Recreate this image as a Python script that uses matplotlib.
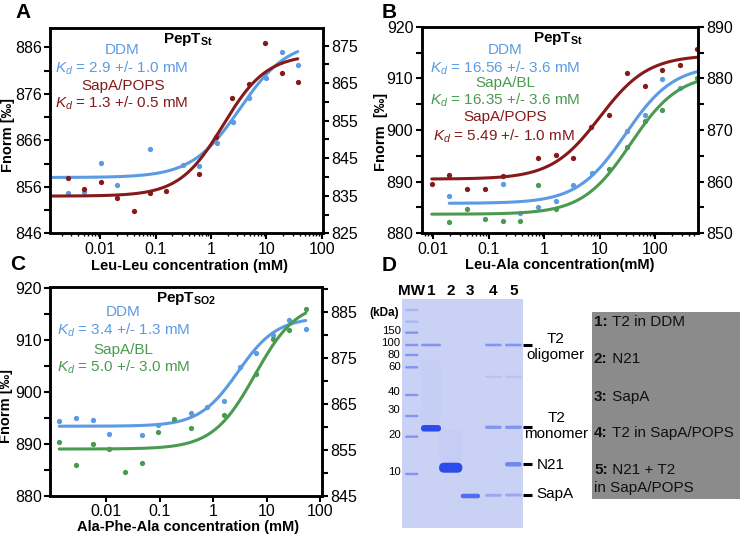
import numpy as np
import matplotlib.pyplot as plt
from matplotlib.patches import FancyBboxPatch, Rectangle
from matplotlib.text import Annotation
from matplotlib.ticker import LogLocator, NullFormatter

plt.rcParams['font.family'] = ['Liberation Sans', 'DejaVu Sans']
plt.rcParams['mathtext.fontset'] = 'custom'
plt.rcParams['mathtext.rm'] = 'Liberation Sans'
plt.rcParams['mathtext.it'] = 'Liberation Sans:italic'
plt.rcParams['mathtext.bf'] = 'Liberation Sans:bold'

BLUE = '#5b9be3'
RED = '#861a1a'
GREEN = '#4a9a50'
W, H = 740, 538

# =============================================================================
# DATA
# =============================================================================
# A: PepT St, Leu-Leu
a_x_ddm = [0.0026, 0.0051, 0.0102, 0.020, 0.080, 0.31, 0.61, 1.27, 2.47, 4.9, 9.8, 19.0, 38.0]
a_y_ddm = [854.7, 854.8, 861.1, 856.3, 864.1, 860.6, 860.5, 865.5, 869.9, 875.2, 879.5, 884.9, 882.1]
a_x_pops = [0.0026, 0.0051, 0.0102, 0.020, 0.040, 0.080, 0.155, 0.61, 1.23, 2.4, 4.9, 9.5, 19.0, 38.0]
a_y_pops = [857.8, 855.6, 857.1, 853.5, 850.8, 854.7, 855.0, 858.8, 866.8, 875.1, 878.1, 887.0, 880.5, 878.5]
# fitted curves: (bottom, top, K, hill n, x start, x end)
a_fit_ddm = (858.0, 887.5, 3.3, 1.0, 0.0013, 37)
a_fit_pops = (854.0, 884.5, 1.65, 1.1, 0.0013, 37)

# B: PepT St, Leu-Ala
b_x_pops = [0.0094, 0.0194, 0.0405, 0.0844, 0.178, 0.78, 1.62, 3.34, 6.94, 14.8, 30.9, 64.4, 134, 279, 571]
b_y_pops = [889.5, 891.3, 888.5, 888.6, 891.0, 894.5, 895.2, 894.5, 900.5, 902.9, 911.1, 908.6, 911.6, 912.6, 915.7]
b_x_ddm = [0.0194, 0.178, 0.370, 0.769, 1.62, 3.34, 7.15, 30.9, 64.4, 134, 279]
b_y_ddm = [887.3, 889.6, 883.9, 885.0, 886.3, 889.4, 891.6, 899.8, 902.9, 909.9, 908.2]
b_x_bl = [0.0194, 0.0405, 0.0844, 0.178, 0.370, 0.769, 1.62, 14.8, 30.9, 64.4, 134, 571]
b_y_bl = [882.1, 884.8, 882.8, 882.3, 882.3, 889.4, 884.8, 892.4, 896.7, 901.8, 903.9, 910.0]
b_fit_pops = (890.5, 914.5, 10, 1.0, 0.0094, 590)
b_fit_ddm = (885.8, 912.6, 29, 1.0, 0.0194, 590)
b_fit_bl = (883.7, 911.0, 36, 1.0, 0.0094, 590)

# C: PepT SO2, Ala-Phe-Ala
c_x_ddm = [0.00132, 0.00277, 0.00557, 0.0113, 0.0465, 0.0938, 0.378, 0.772, 1.56, 3.16, 6.28, 12.9, 26.2, 53.3]
c_y_ddm = [894.4, 894.9, 894.6, 891.9, 891.8, 893.6, 895.9, 897.1, 898.3, 904.9, 907.6, 910.9, 913.9, 912.1]
c_x_bl = [0.00132, 0.00277, 0.00557, 0.0113, 0.0226, 0.0465, 0.0938, 0.188, 0.378, 1.56, 6.28, 12.9, 26.2, 53.3]
c_y_bl = [890.3, 885.9, 889.9, 889.1, 884.6, 886.4, 892.2, 894.8, 893.0, 895.5, 903.4, 910.2, 911.9, 916.0]
c_fit_ddm = (893.4, 914.4, 2.9, 1.2, 0.00132, 53.3)
c_fit_bl = (889.0, 917.6, 6.0, 1.1, 0.00132, 53.3)

# D: SDS-PAGE gel (positions in px from the gel's top-left corner)
lane_names = ['MW', '1', '2', '3', '4', '5']
lane_x = [9.4, 28.7, 48.4, 68.1, 91.1, 111.1]
lane_w = [13.3, 20.0, 23.3, 19.3, 16.7, 16.7]
ladder_kda = ['150', '100', '80', '60', '40', '30', '20', '10']
ladder_y = [33.4, 45.7, 55.7, 68.0, 95.7, 116.7, 137.4, 174.7]
ladder_label_y = [31.7, 44.0, 55.7, 67.4, 92.4, 110.7, 135.7, 173.0]
ladder_extra_y = [10.7, 22.4]
# (lane index, y, thickness, intensity 0..1)
bands = [
    (1, 45.7, 2.6, 0.45), (1, 129.0, 6.5, 1.0),
    (2, 168.4, 10.0, 1.0),
    (3, 196.7, 4.5, 0.75),
    (4, 45.7, 2.6, 0.45), (4, 77.4, 1.8, 0.12), (4, 128.0, 3.3, 0.45), (4, 196.0, 3.0, 0.3),
    (5, 45.7, 2.6, 0.45), (5, 77.4, 1.8, 0.12), (5, 128.0, 3.3, 0.45), (5, 165.0, 4.5, 0.55),
    (5, 195.7, 3.0, 0.3),
]
# faint smears above the big bands: (lane, y top, y bottom, intensity)
smears = [(1, 60, 125, 0.025), (2, 130, 163, 0.03)]
marker_y = [45.7, 128.0, 165.0, 195.7]
gel_legend = [('1:', ' T2 in DDM'), ('2:', ' N21'), ('3:', ' SapA'),
              ('4:', ' T2 in SapA/POPS'), ('5:', ' N21 + T2')]
gel_legend_y = [322.3, 359.3, 396.7, 433.3, 470.0]


def hill(x, lo, hi, kd, n):
    return lo + (hi - lo) * x ** n / (x ** n + kd ** n)


def px_axes(fig, left, top, width, height):
    return fig.add_axes([left / W, 1 - (top + height) / H, width / W, height / H])


def mst_panel(ax, xlim, ylim, ylim_r, yt, yt_r, series, xlabel, ylabel, ylab_pos,
              xlab_pos, title, notes):
    ax.set_xscale('log')
    for xs, ys, fit, col in series:
        lo, hi, kd, n, x0, x1 = fit
        xx = np.logspace(np.log10(x0), np.log10(x1), 300)
        ax.plot(xx, hill(xx, lo, hi, kd, n), color=col, lw=2.2, solid_capstyle='round')
        ax.plot(xs, ys, 'o', color=col, ms=3.8, mec='none')
    ax.set_xlim(xlim)
    ax.set_ylim(ylim)
    ax.set_xticks([0.01, 0.1, 1, 10, 100], labels=['0.01', '0.1', '1', '10', '100'])
    ax.xaxis.set_minor_locator(LogLocator(base=10, subs=np.arange(2, 10)))
    ax.xaxis.set_minor_formatter(NullFormatter())
    ax.set_yticks(yt)
    ax.set_yticks(np.array(yt[:-1]) + 5, minor=True)
    axr = ax.twinx()
    axr.set_ylim(ylim_r)
    axr.set_yticks(yt_r)
    axr.set_yticks(np.array(yt_r) + 5, minor=True)
    axr.set_ylim(ylim_r)
    for a in (ax, axr):
        for s in a.spines.values():
            s.set_linewidth(1.8)
        a.tick_params(which='major', direction='out', length=4.5, width=1.5,
                      labelsize=11.5, pad=1.5)
        a.tick_params(axis='y', which='minor', direction='out', length=4.5, width=1.5)
    ax.tick_params(axis='x', which='minor', direction='out', length=2.5, width=1.0)
    ax.text(xlab_pos[0], xlab_pos[1], xlabel, transform=ax.transAxes, ha='center',
            va='center', fontsize=10.5, fontweight='bold')
    ax.text(ylab_pos[0], ylab_pos[1], ylabel, transform=ax.transAxes, ha='center',
            va='center', rotation=90, fontsize=10.5, fontweight='bold')
    ax.text(title[0], title[1], title[2], transform=ax.transAxes, ha='center',
            va='center', fontsize=11)
    for x, y, s, col in notes:
        ax.text(x, y, s, transform=ax.transAxes, ha='center', va='center',
                fontsize=11, color=col)


fig = plt.figure(figsize=(W / 100, H / 100), dpi=100)

# ---- A ----
axA = px_axes(fig, 50, 28, 273.3, 205.3)
mst_panel(axA, (0.00123, 107), (846, 890.15), (825, 879.7),
          [846, 856, 866, 876, 886], [825, 835, 845, 855, 865, 875],
          [(a_x_ddm, a_y_ddm, a_fit_ddm, BLUE), (a_x_pops, a_y_pops, a_fit_pops, RED)],
          'Leu-Leu concentration (mM)', 'Fnorm [‰]', (-0.154, 0.479), (0.512, -0.159),
          (0.505, 0.945, r'$\mathbf{PepT}_{\mathbf{St}}$'),
          [(0.263, 0.893, 'DDM', BLUE),
           (0.263, 0.804, r'$K_d$ = 2.9 +/- 1.0 mM', BLUE),
           (0.268, 0.717, 'SapA/POPS', RED),
           (0.263, 0.633, r'$K_d$ = 1.3 +/- 0.5 mM', RED)])

# ---- B ----
axB = px_axes(fig, 421.7, 26.7, 276.3, 206.6)
mst_panel(axB, (0.00618, 588), (880, 920), (850, 890),
          [880, 890, 900, 910, 920], [850, 860, 870, 880, 890],
          [(b_x_pops, b_y_pops, b_fit_pops, RED), (b_x_ddm, b_y_ddm, b_fit_ddm, BLUE),
           (b_x_bl, b_y_bl, b_fit_bl, GREEN)],
          'Leu-Ala concentration(mM)', 'Fnorm  [‰]', (-0.148, 0.49), (0.50, -0.153),
          (0.494, 0.944, r'$\mathbf{PepT}_{\mathbf{St}}$'),
          [(0.301, 0.887, 'DDM', BLUE),
           (0.301, 0.799, r'$K_d$ = 16.56 +/- 3.6 mM', BLUE),
           (0.301, 0.729, 'SapA/BL', GREEN),
           (0.301, 0.645, r'$K_d$ = 16.35 +/- 3.6 mM', GREEN),
           (0.301, 0.564, 'SapA/POPS', RED),
           (0.297, 0.468, r'$K_d$ = 5.49 +/- 1.0 mM', RED)])

# ---- C ----
axC = px_axes(fig, 50, 286.7, 271.7, 209)
mst_panel(axC, (0.000887, 106), (880, 920.3), (845, 890.4),
          [880, 890, 900, 910, 920], [845, 855, 865, 875, 885],
          [(c_x_ddm, c_y_ddm, c_fit_ddm, BLUE), (c_x_bl, c_y_bl, c_fit_bl, GREEN)],
          'Ala-Phe-Ala concentration (mM)', 'Fnorm [‰]', (-0.162, 0.43), (0.509, -0.148),
          (0.503, 0.944, r'$\mathbf{PepT}_{\mathbf{SO2}}$'),
          [(0.27, 0.880, 'DDM', BLUE),
           (0.27, 0.789, r'$K_d$ = 3.4 +/- 1.3 mM', BLUE),
           (0.27, 0.697, 'SapA/BL', GREEN),
           (0.27, 0.614, r'$K_d$ = 5.0 +/- 3.0 mM', GREEN)])

# ---- D: gel ----
gel = px_axes(fig, 402.3, 299.3, 120.4, 229)
gel.set_xlim(0, 120.4)
gel.set_ylim(229, 0)
gel.axis('off')
gel.add_patch(Rectangle((0, 0), 120.4, 229, color='#c9d1f4', zorder=0))
bg = np.array([0.79, 0.82, 0.957])
dark = np.array([0.17, 0.30, 0.92])


def band_color(v):
    return tuple(bg + (dark - bg) * v)


for lane, y0, y1, v in smears:
    gel.add_patch(FancyBboxPatch((lane_x[lane] - lane_w[lane] / 2, y0), lane_w[lane],
                                 y1 - y0, boxstyle='round,pad=0,rounding_size=4',
                                 color=band_color(v), lw=0, zorder=1))
for y in ladder_y + ladder_extra_y:
    v = 0.45 if y in ladder_y else 0.2
    gel.add_patch(FancyBboxPatch((lane_x[0] - lane_w[0] / 2, y - 1.2), lane_w[0], 2.4,
                                 boxstyle='round,pad=0,rounding_size=1.2',
                                 color=band_color(v), lw=0, zorder=2))
for lane, y, t, v in bands:
    w = lane_w[lane]
    gel.add_patch(FancyBboxPatch((lane_x[lane] - w / 2, y - t / 2), w, t,
                                 boxstyle='round,pad=0,rounding_size=%.2f' % (t / 2),
                                 color=band_color(v), lw=0, zorder=2))
for name, x in zip(lane_names, lane_x):
    gel.text(x, -8.6, name, ha='center', va='center', fontsize=11, fontweight='bold')
for kda, y in zip(ladder_kda, ladder_label_y):
    gel.text(-1.6, y, kda, ha='right', va='center', fontsize=8.2)
gel.text(-18.3, 14, '(kDa)', ha='center', va='center', fontsize=8.5, fontweight='bold')
for y in marker_y:
    gel.plot([121, 129.4], [y, y], color='black', lw=2.2, clip_on=False,
             solid_capstyle='butt')
gel.text(153.5, 47.5, 'T2\noligomer', ha='center', va='center', fontsize=11,
         linespacing=1.15)
gel.text(154.0, 127.0, 'T2\nmonomer', ha='center', va='center', fontsize=11,
         linespacing=1.15)
gel.text(134.4, 165.7, 'N21', ha='left', va='center', fontsize=11)
gel.text(134.4, 194.7, 'SapA', ha='left', va='center', fontsize=11)

fig.add_artist(Rectangle((591.7 / W, 1 - 499.3 / H), (W - 591.7) / W, (499.3 - 311.7) / H,
                         transform=fig.transFigure, color='#8b8b8b', lw=0, zorder=1))
for (num, desc), y in zip(gel_legend, gel_legend_y):
    t = fig.text(594 / W, 1 - y / H, num, ha='left', va='center', fontsize=11,
                 fontweight='bold', color='#111111', zorder=3)
    ann = Annotation(desc, xy=(1, 0.5), xycoords=t, ha='left', va='center', fontsize=11,
                     color='#111111', annotation_clip=False, zorder=3)
    fig.add_artist(ann)
fig.text(594 / W, 1 - 488.3 / H, 'in SapA/POPS', ha='left', va='center', fontsize=11,
         color='#111111', zorder=3)

# panel letters
for lab, (x, y) in zip('ABCD', [(23, 13), (389, 12), (18, 265), (389, 266)]):
    fig.text(x / W, 1 - y / H, lab, ha='center', va='center', fontsize=15,
             fontweight='bold')

fig.savefig('out.png', dpi=100)
